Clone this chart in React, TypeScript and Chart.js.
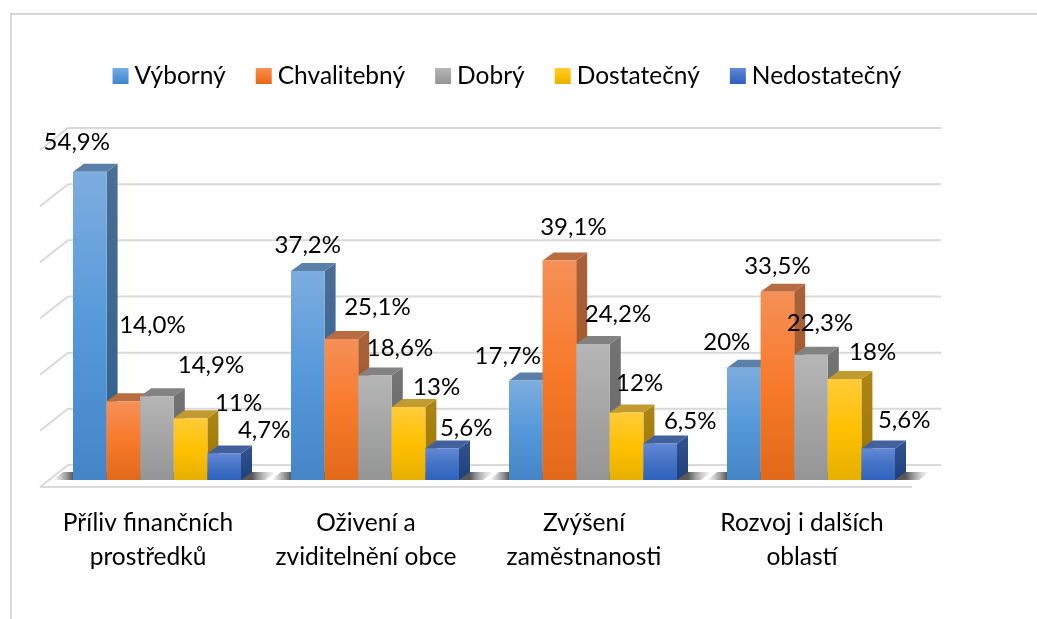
import React, { useEffect, useRef } from "react";
import { Chart, registerables } from "chart.js";

Chart.register(...registerables);

const categories = [
  ["Příliv finančních", "prostředků"],
  ["Oživení a", "zviditelnění obce"],
  ["Zvýšení", "zaměstnanosti"],
  ["Rozvoj i dalších", "oblastí"],
];
const seriesNames = ["Výborný", "Chvalitebný", "Dobrý", "Dostatečný", "Nedostatečný"];
const vyborny = [54.9, 37.2, 17.7, 20];
const chvalitebny = [14.0, 25.1, 39.1, 33.5];
const dobry = [14.9, 18.6, 24.2, 22.3];
const dostatecny = [11, 13, 12, 18];
const nedostatecny = [4.7, 5.6, 6.5, 5.6];
const labelTexts = [
  ["54,9%", "37,2%", "17,7%", "20%"],
  ["14,0%", "25,1%", "39,1%", "33,5%"],
  ["14,9%", "18,6%", "24,2%", "22,3%"],
  ["11%", "13%", "12%", "18%"],
  ["4,7%", "5,6%", "6,5%", "5,6%"],
];
// Label displacement from the top-centre of each bar
const labelOffsetX = [
  [-13, 0, -18, -17],
  [29, 36, 14, 0],
  [54, 25, 25, 9],
  [48, 28, 13, 28],
  [40, 24, 30, 26],
];
const labelOffsetY = [
  [-29, -26, -24, -25],
  [-76, -32, -33, -26],
  [-31, -27, -30, -31],
  [-15, -20, -29, -27],
  [-23, -20, -22, -28],
];

const palette = [
  { hi: "#7DADDF", mid: "#5599DA", lo: "#4485C8", top: "#5A7FA8", sideHi: "#4A6E96", sideLo: "#2F5F8C" },
  { hi: "#F59058", mid: "#F8792A", lo: "#E2691A", top: "#B86C42", sideHi: "#A8623A", sideLo: "#A5501C" },
  { hi: "#B6B6B6", mid: "#A5A5A5", lo: "#959595", top: "#828282", sideHi: "#747474", sideLo: "#666666" },
  { hi: "#FFCB3A", mid: "#FFC000", lo: "#E6B000", top: "#C29B30", sideHi: "#AD8518", sideLo: "#9A7600" },
  { hi: "#6488D8", mid: "#4472C4", lo: "#2E62BE", top: "#41609C", sideHi: "#34548F", sideLo: "#1F3F7A" },
];

const FONT = "Lato, 'Noto Sans', sans-serif";
const FONT_SIZE = 24.5;
const VALUE_FONT_SIZE = 24;
const GRID = "#D9D9D9";
const BAR_DX = 11;
const BAR_DY = 8;
const WALL_DX = 28;
const WALL_DY = 22;
const WALL_SHIFT = 15;

const polygon = (ctx: CanvasRenderingContext2D, pts: number[][], fill: any) => {
  ctx.beginPath();
  pts.forEach(([x, y], i) => (i ? ctx.lineTo(x, y) : ctx.moveTo(x, y)));
  ctx.closePath();
  ctx.fillStyle = fill;
  ctx.fill();
};

const scene3d = {
  id: "scene3d",
  beforeDatasetsDraw(chart: any) {
    const { ctx, chartArea, scales } = chart;
    const y = scales.y;
    const base = y.getPixelForValue(0);
    const frontLeft = chartArea.left - 8;
    const frontRight = chartArea.right - 8;
    ctx.save();

    // frame around the chart object
    ctx.strokeStyle = GRID;
    ctx.lineWidth = 2;
    ctx.beginPath();
    ctx.moveTo(11, 619);
    ctx.lineTo(11, 14);
    ctx.lineTo(1037, 14);
    ctx.stroke();

    // back wall, side wall and floor grid
    y.ticks.forEach((t: any) => {
      const py = y.getPixelForValue(t.value) - WALL_SHIFT;
      ctx.beginPath();
      ctx.moveTo(frontLeft, py + WALL_DY);
      ctx.lineTo(frontLeft + WALL_DX, py);
      ctx.lineTo(frontRight + WALL_DX + 1, py);
      if (t.value === 0) {
        ctx.moveTo(frontLeft, py + WALL_DY);
        ctx.lineTo(frontRight, py + WALL_DY);
      }
      ctx.stroke();
    });

    // floor shadows behind each group
    const first = chart.getDatasetMeta(0).data;
    const last = chart.getDatasetMeta(4).data;
    first.forEach((el: any, i: number) => {
      const l = el.x - el.width / 2;
      const r = last[i].x + last[i].width / 2;
      const x0 = l - 20;
      const x1 = r + 35;
      const span = x1 - x0;
      const g = ctx.createLinearGradient(x0, 0, x1, 0);
      g.addColorStop(0, "rgba(120,120,120,0)");
      g.addColorStop(20 / span, "rgba(70,70,70,0.9)");
      g.addColorStop((r - x0 + 11) / span, "rgba(70,70,70,0.9)");
      g.addColorStop(1, "rgba(160,160,160,0)");
      polygon(ctx, [[l - 10, base - 8], [x1, base - 8], [r + 24, base], [x0, base]], g);
    });

    // bars: faces in dataset order, so each bar's front covers its neighbour's side
    chart.data.datasets.forEach((_: any, di: number) => {
      const meta = chart.getDatasetMeta(di);
      const c = palette[di];
      meta.data.forEach((el: any) => {
        const l = el.x - el.width / 2;
        const r = el.x + el.width / 2;
        const side = ctx.createLinearGradient(0, el.y - BAR_DY, 0, el.base);
        side.addColorStop(0, c.sideHi);
        side.addColorStop(1, c.sideLo);
        polygon(ctx, [[r, el.y], [r + BAR_DX, el.y - BAR_DY], [r + BAR_DX, el.base - BAR_DY], [r, el.base]], side);
        polygon(ctx, [[l, el.y], [l + BAR_DX, el.y - BAR_DY], [r + BAR_DX, el.y - BAR_DY], [r, el.y]], c.top);
      });
      meta.controller.draw();
    });
    ctx.restore();
    return false;
  },
  afterDraw(chart: any) {
    const { ctx } = chart;
    ctx.save();
    ctx.fillStyle = "#000000";
    ctx.textBaseline = "middle";

    // value labels
    ctx.font = `${VALUE_FONT_SIZE}px ${FONT}`;
    ctx.textAlign = "center";
    chart.data.datasets.forEach((_: any, di: number) => {
      chart.getDatasetMeta(di).data.forEach((el: any, i: number) => {
        ctx.fillText(labelTexts[di][i], el.x + labelOffsetX[di][i], el.y + labelOffsetY[di][i]);
      });
    });

    // legend
    ctx.font = `${FONT_SIZE}px ${FONT}`;
    ctx.textAlign = "left";
    const widths = seriesNames.map((n) => ctx.measureText(n).width);
    const total = widths.reduce((a, b) => a + b + 22, 0) + 30 * (seriesNames.length - 1);
    let x = 507 - total / 2;
    seriesNames.forEach((n, i) => {
      const g = ctx.createLinearGradient(0, 68, 0, 84);
      g.addColorStop(0, palette[i].hi);
      g.addColorStop(0.5, palette[i].mid);
      g.addColorStop(1, palette[i].lo);
      ctx.fillStyle = g;
      ctx.fillRect(x, 68, 16, 16);
      ctx.fillStyle = "#000000";
      ctx.fillText(n, x + 22, 76);
      x += 22 + widths[i] + 30;
    });
    ctx.restore();
  },
};

const frontFill = (di: number) => (c: any) => {
  const { chart, parsed } = c;
  const y = chart.scales?.y;
  const c0 = parsed && y ? y.getPixelForValue(parsed.y) : NaN;
  const c1 = y ? y.getPixelForValue(0) : NaN;
  if (!Number.isFinite(c0) || !Number.isFinite(c1)) return palette[di].mid;
  const g = chart.ctx.createLinearGradient(0, c0, 0, c1);
  g.addColorStop(0, palette[di].hi);
  g.addColorStop(0.5, palette[di].mid);
  g.addColorStop(1, palette[di].lo);
  return g;
};

export default function App() {
  const ref = useRef<HTMLCanvasElement>(null);
  useEffect(() => {
    const values = [vyborny, chvalitebny, dobry, dostatecny, nedostatecny];
    const chart = new Chart(ref.current as HTMLCanvasElement, {
      type: "bar",
      data: {
        labels: categories,
        datasets: seriesNames.map((label, i) => ({
          label,
          data: values[i],
          backgroundColor: frontFill(i),
          borderWidth: 0,
          barPercentage: 1,
          categoryPercentage: 168 / 218,
        })),
      },
      plugins: [scene3d],
      options: {
        animation: false,
        responsive: false,
        layout: { padding: { left: 40, right: 117, top: 143, bottom: 27 } },
        plugins: { legend: { display: false }, tooltip: { enabled: false }, title: { display: false } },
        scales: {
          x: {
            grid: { display: false },
            border: { display: false },
            ticks: {
              color: "#000000",
              font: { family: FONT, size: FONT_SIZE, lineHeight: 34 / FONT_SIZE },
              padding: 18,
              labelOffset: -9,
              maxRotation: 0,
              autoSkip: false,
            },
          },
          y: {
            display: true,
            min: 0,
            max: 60,
            grid: { display: false },
            border: { display: false },
            ticks: { display: false, stepSize: 10 },
          },
        },
      },
    });
    return () => chart.destroy();
  }, []);
  return (
    <canvas
      ref={ref}
      width={1037}
      height={619}
      style={{ position: "fixed", left: 0, top: 0, display: "block", background: "#ffffff" }}
    />
  );
}
